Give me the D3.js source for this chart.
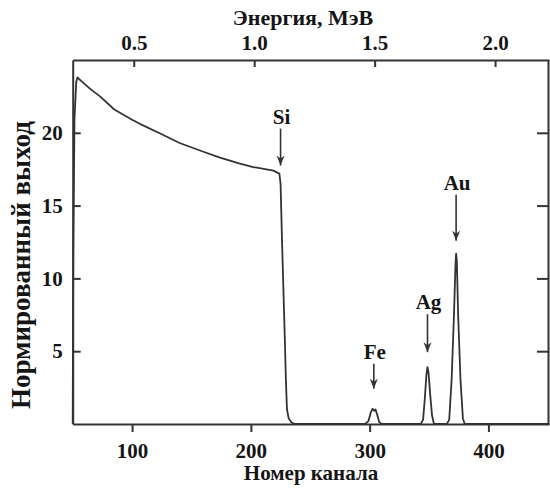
<!DOCTYPE html>
<html>
<head>
<meta charset="utf-8">
<script src="https://cdn.jsdelivr.net/npm/d3@7"></script>
<style>
  html, body { margin: 0; padding: 0; background: #fff; }
  svg { display: block; }
  text { font-family: "Liberation Serif", "DejaVu Serif", serif; font-weight: bold; fill: #151515; }
</style>
</head>
<body>
<svg id="chart" width="550" height="491"></svg>
<script>
// ---- data ----
const channels = [50, 50.5, 51.5, 53, 54, 58, 65, 73, 85, 100, 107, 125, 140, 160, 174, 190, 202, 212, 219, 224,
  225, 226, 227.3, 228.4, 229.5, 230.4, 231.8, 234, 237,
  296, 299, 301, 302.5, 304, 305, 306.5, 308, 310,
  343, 345, 346.5, 347.8, 348.7, 349.5, 351, 352.5, 354, 355,
  365, 367, 369, 371, 372.3, 372.8, 373.4, 374.5, 376.5, 378.5, 380, 451];
const yields = [0, 12, 21, 23.5, 23.8, 23.5, 23.0, 22.5, 21.6, 20.9, 20.6, 19.9, 19.3, 18.7, 18.3, 17.9, 17.65, 17.5, 17.4, 17.2,
  16.5, 13.3, 9.5, 6.4, 3.0, 1.0, 0.4, 0.12, 0,
  0, 0.2, 0.8, 1.05, 0.9, 1.0, 0.6, 0.15, 0,
  0, 0.3, 1.8, 3.4, 3.9, 3.6, 2.0, 0.6, 0.05, 0,
  0, 0.3, 3.0, 7.5, 11.0, 11.7, 11.2, 7.5, 3.0, 0.4, 0, 0];

const xTicks = [100, 200, 300, 400];
const yTicks = [5, 10, 15, 20];
const energyTicks = [0.5, 1.0, 1.5, 2.0];
const channelsPerMeV = 202.8;

const peakLabels = ["Si", "Fe", "Ag", "Au"];
const peakChannels = [225, 303.5, 348.7, 372.8];
const peakTops = [17.2, 1.05, 3.9, 11.7];

// ---- layout ----
const svg = d3.select("#chart");
const mLeft = 72.7, mRight = 549, mTop = 60, mBottom = 424;
const xDomain = [50, 451];
const x = d3.scaleLinear().domain(xDomain).range([mLeft, mRight]);
const xE = d3.scaleLinear().domain(xDomain.map(c => c / channelsPerMeV)).range([mLeft, mRight]);
const y = d3.scaleLinear().domain([0, 25]).range([mBottom, mTop]);

const stroke = "#333";

// axes
const fontSize = 21;
function styleAxis(g) {
  g.selectAll("path.domain").attr("stroke", stroke).attr("stroke-width", 2);
  g.selectAll(".tick line").attr("stroke", stroke).attr("stroke-width", 2);
  g.selectAll(".tick text").attr("font-size", fontSize).attr("font-family", "Liberation Serif").attr("font-weight", "bold").attr("fill", "#151515");
}

svg.append("g").attr("transform", `translate(0,${mBottom})`)
  .call(d3.axisBottom(x).tickValues(xTicks).tickSizeInner(8).tickSizeOuter(0).tickPadding(11).tickFormat(d3.format("d")))
  .call(styleAxis);

svg.append("g").attr("transform", `translate(0,${mTop})`)
  .call(d3.axisTop(xE).tickValues(energyTicks).tickSizeInner(-7).tickSizeOuter(0).tickPadding(10).tickFormat(d3.format(".1f")))
  .call(styleAxis);

svg.append("g").attr("transform", `translate(${mLeft},0)`)
  .call(d3.axisLeft(y).tickValues(yTicks).tickSizeInner(-8).tickSizeOuter(0).tickPadding(10).tickFormat(d3.format("d")))
  .call(styleAxis);

svg.append("g").attr("transform", `translate(${mRight - 1},0)`)
  .call(d3.axisRight(y).tickValues(yTicks).tickSizeInner(-11).tickSizeOuter(0).tickFormat(""))
  .call(styleAxis);

// spectrum line
const data = channels.map((c, i) => ({ c, v: yields[i] }));
const line = d3.line().x(d => x(d.c)).y(d => y(d.v));
svg.append("path").datum(data)
  .attr("d", line)
  .attr("fill", "none")
  .attr("stroke", stroke)
  .attr("stroke-width", 1.8)
  .attr("stroke-linejoin", "round");

// axis titles
svg.append("text").attr("x", 311).attr("y", 480).attr("text-anchor", "middle")
  .attr("font-size", fontSize).text("Номер канала");
svg.append("text").attr("x", 303).attr("y", 25).attr("text-anchor", "middle")
  .attr("font-size", 22).text("Энергия, МэВ");
svg.append("text").attr("transform", "translate(30,265) rotate(-90)").attr("text-anchor", "middle")
  .attr("font-size", 27).text("Нормированный выход");

// arrowhead marker
const defs = svg.append("defs");
defs.append("marker").attr("id", "arr").attr("viewBox", "0 0 10 10")
  .attr("refX", 10).attr("refY", 5).attr("markerWidth", 10).attr("markerHeight", 10)
  .attr("markerUnits", "userSpaceOnUse").attr("orient", "auto")
  .append("path").attr("d", "M0,1 L10,5 L0,9 L3,5 Z").attr("fill", stroke);

// peak annotations: label above the peak top, arrow down towards the peak
const labelGap = [50, 50, 58, 64];   // px from label baseline to peak top
const arrowGap = [8, 20, 15, 13];    // px from arrow tip to peak top
peakLabels.forEach((lab, i) => {
  const px = x(peakChannels[i]);
  const py = y(peakTops[i]);
  const base = py - labelGap[i];
  svg.append("text").attr("x", px + 1).attr("y", base).attr("text-anchor", "middle")
    .attr("font-size", fontSize).text(lab);
  svg.append("line").attr("x1", px).attr("x2", px)
    .attr("y1", base + 5).attr("y2", py - arrowGap[i])
    .attr("stroke", stroke).attr("stroke-width", 1.6)
    .attr("marker-end", "url(#arr)");
});
</script>
</body>
</html>
